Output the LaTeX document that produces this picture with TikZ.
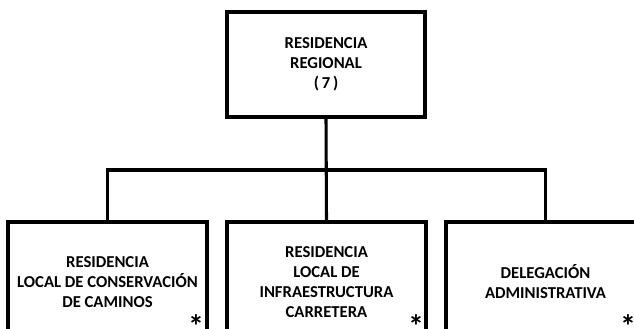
\documentclass[tikz,border=0pt]{standalone}
\usepackage{fontspec}
\setmainfont{Carlito}
\begin{document}
\begin{tikzpicture}[x=0.75pt,y=-0.75pt,
  box/.style={draw=black, line width=2.3pt, align=center, inner sep=0pt,
    font=\fontsize{12.5}{15}\selectfont\bfseries},
  topbox/.style={box, minimum width=148.5pt, minimum height=78.75pt},
  lowbox/.style={box, minimum width=149.25pt, minimum height=90pt},
  conn/.style={line width=2.3pt, line join=miter},
  star/.style={inner sep=0pt, anchor=base, font=\fontsize{24}{24}\selectfont\bfseries}]
\useasboundingbox (0,0) rectangle (634,328);
\node[topbox] (top) at (326,64.5) {RESIDENCIA\\REGIONAL\\(\,7\,)};
\node[lowbox] (b1) at (107.5,282) {RESIDENCIA\\LOCAL DE CONSERVACIÓN\\DE CAMINOS};
\node[lowbox] (b2) at (326.5,282) {RESIDENCIA\\LOCAL DE\\INFRAESTRUCTURA\\CARRETERA};
\node[lowbox] (b3) at (545.5,282) {DELEGACIÓN\\ADMINISTRATIVA};
\coordinate (bar) at (0,170);
\draw[conn] (top.south) -- (b2.north);
\draw[conn] (b1.north) -- (b1.north |- bar) -- (b3.north |- bar) -- (b3.north);
\node[star] (s1) at (196,337) {*};
\node[star] (s2) at (416,337) {*};
\node[star] (s3) at (628,337) {*};
\end{tikzpicture}
\end{document}
